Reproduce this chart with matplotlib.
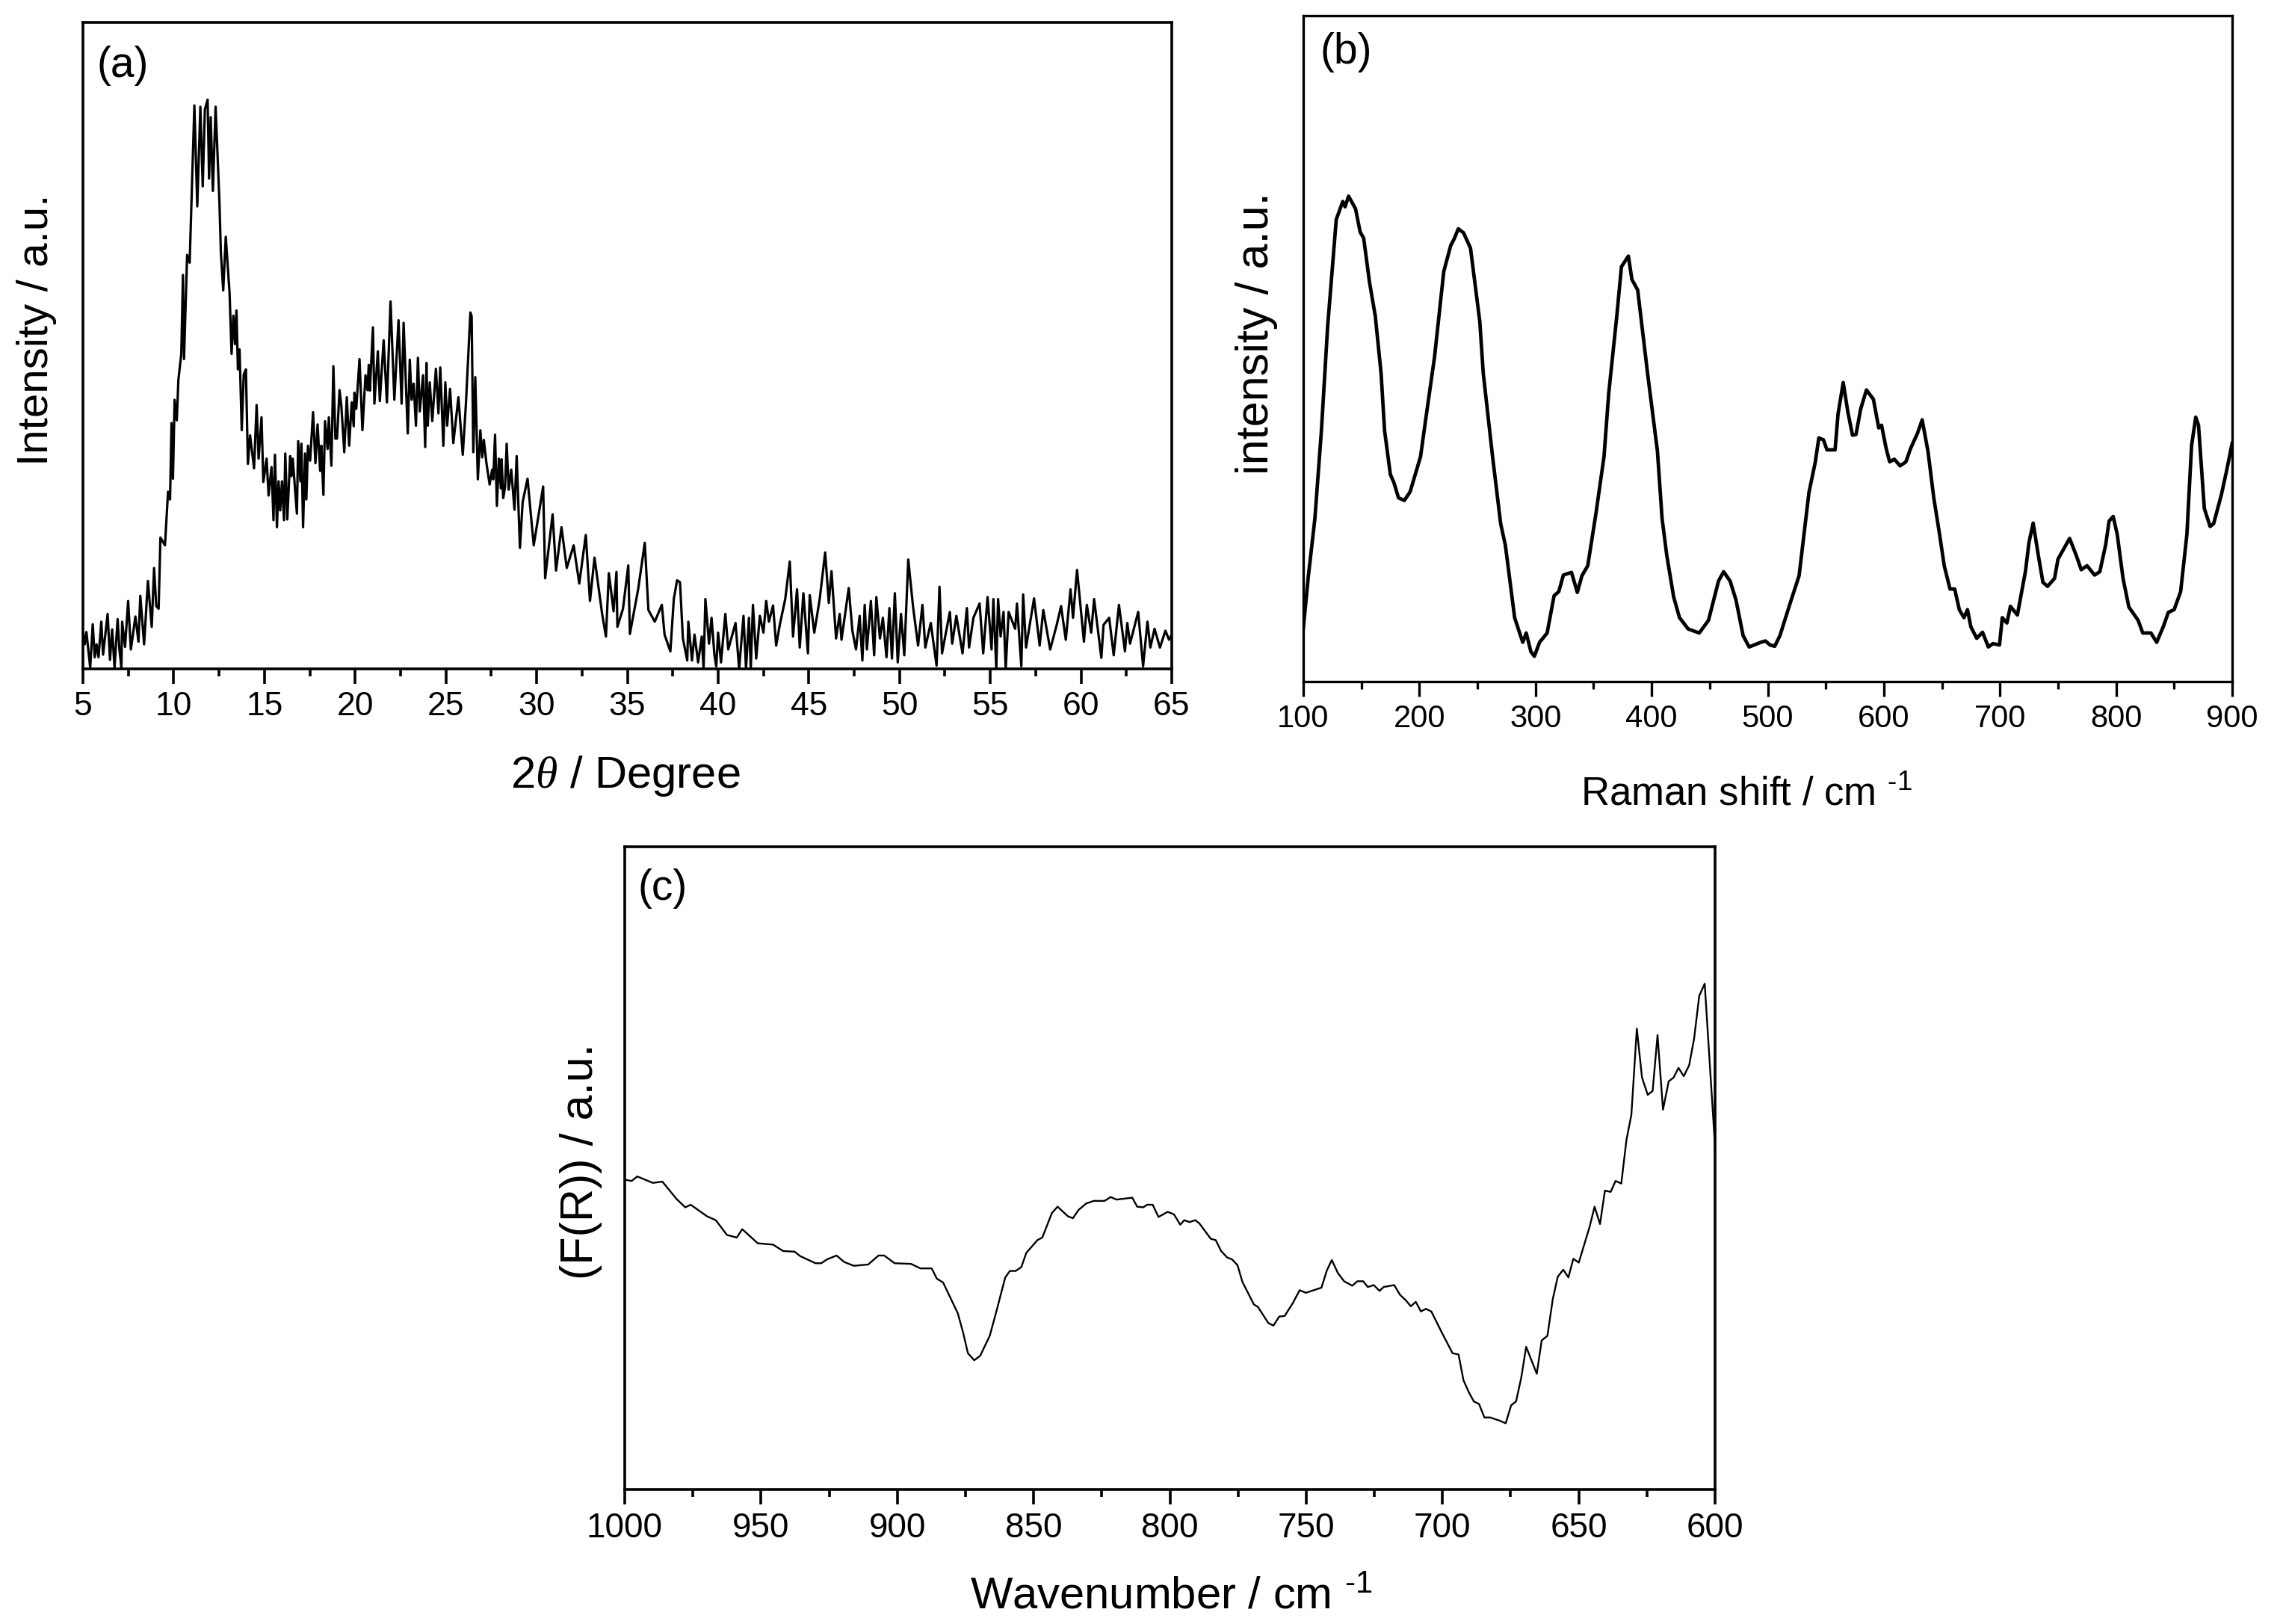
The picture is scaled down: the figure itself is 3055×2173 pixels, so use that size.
import matplotlib
matplotlib.use("Agg")
import matplotlib.pyplot as plt
from matplotlib.ticker import MultipleLocator

plt.rcParams['font.family'] = ['Liberation Sans', 'DejaVu Sans']
plt.rcParams['mathtext.fontset'] = 'custom'
plt.rcParams['mathtext.rm'] = 'Liberation Sans'
plt.rcParams['mathtext.it'] = 'Liberation Serif:italic'

W, H = 3055, 2173

# (a) XRD pattern, y in % of the frame height
xrd_x = [5.00, 5.10, 5.19, 5.40, 5.54, 5.65, 5.75, 5.86, 6.01, 6.11, 6.36, 6.49, 6.61, 6.74, 6.91, 7.01, 7.12, 7.16, 7.32, 7.49,
         7.64, 7.89, 8.06, 8.16, 8.37, 8.58, 8.79, 8.92, 9.04, 9.17, 9.27, 9.52, 9.69, 9.80, 9.88, 9.96, 10.05, 10.17, 10.26, 10.42,
         10.51, 10.57, 10.74, 10.88, 10.99, 11.14, 11.30, 11.47, 11.60, 11.72, 11.87, 11.95, 12.04, 12.16, 12.31, 12.52, 12.60, 12.73, 12.87, 13.08,
         13.19, 13.29, 13.38, 13.46, 13.54, 13.63, 13.75, 13.86, 13.98, 14.09, 14.21,
         14.43, 14.57, 14.68, 14.84, 14.94, 15.12, 15.23, 15.39, 15.50, 15.58, 15.69, 15.78, 15.87, 15.97, 16.08, 16.15, 16.26, 16.42, 16.49, 16.56,
         16.79, 16.86, 16.98, 17.04, 17.13, 17.24, 17.31, 17.40, 17.52, 17.68, 17.81, 17.93, 18.07, 18.14, 18.25, 18.34, 18.48, 18.55, 18.69, 18.80,
         18.91, 19.00, 19.14, 19.24, 19.40, 19.54, 19.67, 19.81, 19.92, 19.96, 20.06, 20.24, 20.40, 20.57, 20.68, 20.75, 20.81, 20.98, 21.06, 21.25,
         21.36, 21.57, 21.75, 21.95, 22.16, 22.39, 22.56, 22.67, 22.90, 23.01, 23.11, 23.22, 23.35, 23.46, 23.56, 23.74, 23.86, 23.93, 24.00, 24.11,
         24.25, 24.45, 24.59, 24.69, 24.86, 24.97, 25.07, 25.23, 25.41, 25.69, 25.93, 26.10, 26.35, 26.42, 26.51, 26.62, 26.76, 26.90, 27.00, 27.09,
         27.23, 27.41, 27.55, 27.61, 27.71, 27.81, 27.92, 28.03, 28.07, 28.16, 28.26, 28.35, 28.46, 28.60, 28.78,
         28.90, 29.08, 29.23, 29.50, 29.84, 30.36, 30.47, 30.88,
         31.07, 31.37, 31.66, 32.04, 32.35, 32.71, 32.94, 33.19, 33.61, 33.82, 33.98, 34.24, 34.40, 34.45, 34.76, 35.05, 35.14, 35.60, 35.96, 36.16,
         36.51, 36.90, 37.05, 37.37, 37.56, 37.74, 37.90, 38.06, 38.30, 38.36, 38.56, 38.70, 38.90, 39.10, 39.20, 39.30, 39.50, 39.64, 39.80, 39.90,
         40.00, 40.16, 40.40, 40.56, 40.96, 41.16, 41.40, 41.54, 41.70, 41.80, 41.92, 42.10, 42.30, 42.50, 42.65, 42.80, 43.03, 43.20, 43.40, 43.70,
         43.95, 44.13, 44.35, 44.50, 44.70, 44.95, 45.05, 45.30, 45.60, 45.90, 46.10, 46.25, 46.50, 46.70, 46.80, 47.20, 47.40, 47.60, 47.80, 47.95,
         48.08, 48.20, 48.42, 48.60, 48.72, 48.92, 49.08, 49.28, 49.44, 49.58, 49.74, 49.90, 50.08, 50.26, 50.48, 50.74, 51.02, 51.26, 51.42, 51.72,
         52.04, 52.20, 52.34, 52.77, 52.90, 53.13, 53.47, 53.71, 53.83, 54.07, 54.41, 54.61, 54.85, 55.07, 55.17, 55.33, 55.43, 55.57, 55.73, 55.85,
         56.01, 56.37, 56.47, 56.71, 56.81, 56.97, 57.41, 57.72, 57.92, 58.30, 58.66, 58.90, 59.16, 59.42, 59.56, 59.78, 60.16, 60.32, 60.56, 60.72,
         61.12, 61.24, 61.55, 61.80, 62.09, 62.42, 62.55, 62.70, 63.15, 63.42, 63.66, 63.82, 64.05, 64.35, 64.65, 64.85, 65.00]
xrd_y = [5.7, 3.8, 5.7, 0.2, 6.9, 1.8, 3.8, 1.8, 7.3, 2.2, 8.5, 1.4, 6.1, 0.2, 7.7, 3.0, 0.2, 7.3, 3.4, 10.5,
         3.0, 8.1, 4.2, 11.3, 3.8, 13.6, 6.5, 15.6, 9.7, 9.3, 20.3, 19.1, 27.4, 26.2, 38.0, 29.4, 41.6, 38.4, 44.7, 48.7,
         60.9, 47.9, 64.0, 62.8, 73.1, 87.1, 71.5, 86.9, 74.6, 86.5, 88.0, 75.8, 85.3, 73.9, 86.9, 72.3, 64.4, 58.5, 66.8, 58.1,
         48.7, 54.6, 50.2, 55.4, 46.3, 49.4, 36.9, 45.5, 46.3, 31.7, 36.1,
         31.0, 40.8, 32.5, 38.9, 28.9, 32.5, 26.8, 31.2, 23.0, 33.1, 21.9, 29.0, 24.5, 29.0, 23.0, 33.3, 23.1, 32.9, 29.8, 32.5,
         24.0, 35.2, 29.0, 34.8, 21.9, 33.3, 26.2, 34.5, 32.2, 39.7, 31.8, 37.8, 30.6, 34.5, 26.9, 38.3, 34.0, 38.9, 31.4, 46.8,
         35.6, 35.6, 43.1, 40.6, 33.5, 42.0, 34.5, 41.2, 37.5, 42.7, 40.2, 47.9, 36.9, 45.4, 43.1, 47.0, 43.0, 52.8, 41.0, 49.1,
         41.4, 50.8, 41.2, 56.8, 41.6, 53.9, 41.0, 53.5, 36.4, 47.8, 41.6, 44.1, 37.6, 48.1, 39.8, 45.4, 34.3, 47.3, 37.6, 44.3,
         38.3, 46.4, 39.5, 46.6, 34.5, 44.3, 37.6, 43.3, 34.9, 42.0, 33.1, 40.8, 55.1, 54.5, 33.5, 45.1, 29.3, 36.9, 32.7, 35.4,
         31.9, 28.5, 30.8, 29.3, 36.2, 25.2, 32.5, 27.9, 32.4, 26.4, 28.1, 34.8, 27.7, 30.8, 24.6,
         32.9, 18.7, 25.8, 29.4, 19.1, 28.2, 14.0, 23.9,
         15.2, 21.9, 15.6, 19.1, 13.2, 20.7, 10.5, 17.2, 8.5, 5.0, 14.8, 8.9, 15.0, 6.5, 9.3, 16.0, 5.4, 12.4, 19.5, 9.1,
         7.3, 9.9, 5.3, 2.7, 10.8, 13.7, 13.4, 4.7, 1.3, 7.3, 1.3, 5.3, 1.0, 5.0, 0.0, 10.8, 3.9, 7.9, 2.1, 0.4,
         5.6, 1.0, 8.5, 3.0, 7.1, 0.0, 8.2, 0.0, 7.9, 0.0, 9.9, 1.6, 8.2, 5.6, 10.5, 7.3, 9.8, 3.6, 6.8, 10.8,
         16.6, 5.0, 12.3, 3.3, 11.7, 2.4, 11.4, 5.6, 10.8, 18.0, 10.2, 15.1, 4.7, 8.5, 4.5, 12.5, 5.9, 3.0, 8.2, 1.3,
         9.9, 3.0, 10.5, 2.1, 11.1, 4.7, 7.9, 1.8, 9.4, 1.6, 11.7, 1.0, 8.5, 2.1, 16.9, 9.7, 3.6, 9.9, 3.3, 7.1,
         0.5, 12.7, 2.4, 8.8, 3.9, 8.2, 2.4, 9.4, 3.3, 7.9, 10.1, 2.4, 11.1, 3.0, 10.8, 0.0, 10.8, 5.0, 8.8, 0.0,
         8.8, 6.2, 10.1, 0.4, 11.5, 3.3, 10.9, 3.6, 9.1, 3.0, 6.8, 9.7, 4.5, 12.3, 7.9, 15.3, 4.2, 9.9, 5.6, 10.8,
         1.7, 6.8, 7.9, 2.1, 9.9, 2.7, 7.1, 3.9, 8.8, 0.4, 7.3, 3.3, 6.2, 3.3, 5.9, 4.5, 5.3]

# (b) Raman spectrum
raman_x = [100, 104.4, 110, 115.6, 121, 128.4, 134, 136, 139, 145, 149, 152, 157, 162, 167, 170, 175, 178, 182, 187,
           192, 201, 206, 213, 221, 227, 230, 233.5, 238, 244, 252, 255, 263, 270, 274, 278, 282, 289, 292, 296,
           299, 303.5, 310, 316, 320, 324, 331, 336, 340, 345, 352, 359, 363, 370, 374, 380, 383, 388, 396.5, 405,
           409, 413, 419, 424, 431.5, 441, 449, 457.6, 462, 467.6, 472.6, 478.8, 484, 494, 498, 502, 506, 510.5, 519, 527,
           535.5, 541, 544, 548, 551, 558, 560.5, 565, 569, 573, 576, 580, 585, 591, 595.6, 598, 602, 605, 609, 614,
           619, 623, 629, 633, 638, 643, 648, 652, 657, 661, 665, 669, 672, 675, 680, 685, 690, 694, 699.6, 702,
           706, 709, 715, 722, 725, 728.6, 733, 737, 741, 747, 750, 760, 765.6, 770, 775, 781.5, 786, 791, 794, 797.5,
           801, 806, 811, 819, 823, 830, 835, 841, 845, 850, 855.6, 861, 865, 868.6, 871, 876, 881, 884, 890.6, 895, 900]
raman_y = [8.0, 15.9, 24.5, 37.7, 53.4, 69.4, 72.1, 71.3, 72.9, 71, 67.5, 66.6, 60, 54.9, 46.3, 37.7, 31.1, 29.9, 27.6, 27.2,
           28.5, 33.8, 40.1, 48.7, 61.6, 65.5, 66.5, 68, 67.4, 65.1, 54.1, 46.3, 33.8, 23.7, 20.5, 15.1, 9.6, 5.9, 7.3, 4.5,
           3.8, 5.9, 7.3, 12.9, 13.5, 16, 16.4, 13.4, 15.9, 17.4, 25.2, 33.8, 43.2, 54.9, 62.3, 63.9, 60.4, 58.8, 46.3, 34.6,
           24.5, 19, 12.7, 9.6, 7.9, 7.3, 9.2, 15.1, 16.5, 15.1, 12.3, 6.9, 5.2, 5.9, 6.1, 5.5, 5.3, 6.9, 11.6, 15.9,
           28.4, 33, 36.6, 36.3, 34.8, 34.8, 40.1, 44.9, 40.5, 37, 37.1, 40.9, 43.8, 42.4, 38.1, 38.5, 35, 33, 33.4, 32.4,
           33, 35, 37.3, 39.3, 34.6, 27.6, 22.1, 17.4, 13.9, 13.9, 10.8, 9.6, 10.8, 8.2, 6.5, 7.4, 5.2, 5.7, 5.5, 9.6,
           8.8, 11.3, 10, 16.6, 20.9, 23.8, 19, 14.9, 14.3, 15.5, 18.4, 21.5, 19, 16.8, 17.4, 16, 16.5, 20.5, 24.1, 24.8,
           22.1, 15.5, 11.2, 9.2, 7.3, 7.3, 5.9, 8.4, 10.4, 10.8, 13.5, 22.1, 35.4, 39.7, 38.5, 26, 23.3, 23.7, 28, 31.5, 35.8]

# (c) F(R) spectrum
fr_x = [1000, 997.5, 995.4, 989.7, 986.2, 981, 977.8, 975.8, 969.8, 966.6, 962.5, 958.9, 956.9, 951.2, 945.6, 941.9, 937.7, 935.6, 930, 927.9,
        925.8, 922.3, 919.5, 916, 910.7, 906.9, 904.8, 901, 895, 891.5, 887.4, 885.5, 883.2, 880.4, 877.8, 875.8, 874.1, 871.8, 869.6, 866.1,
        863.6, 860.4, 858.7, 856.6, 854.5, 852.7, 848.6, 846.8, 843.3, 841.2, 837.4, 835.6, 833.5, 830.7, 827.9, 824, 821.7, 819.6, 813.8, 812,
        809.8, 808.3, 806.3, 804.2, 800.8, 798.5, 796.2, 794.7, 792.8, 790.7, 789.2, 785, 783.2, 781.2, 779, 777.2, 775.2, 773.4, 769.2, 767.7,
        763.9, 762, 759.9, 757.9, 754.9, 752.4, 750.1, 744.4, 742.4, 740.6, 738.4, 736.1, 733.1, 731.2, 729.1, 727.4, 725.2, 723.1, 721.6, 717.7,
        715.6, 713.6, 711.6, 709.8, 707.9, 706.1, 704.1, 700.1, 696.3, 694.1, 692.3, 690.3, 688.5, 686.6, 684.6, 682.5, 679, 676.8, 674.8, 673,
        671.1, 669.3, 665.4, 663.6, 661.5, 659.5, 657.7, 655.7, 653.8, 652, 650, 646, 644.2, 642.2, 640.4, 638.3, 636.5, 634.4, 632.5, 630.7,
        628.7, 626.8, 624.7, 622.9, 621.1, 619.1, 617, 615.2, 613.4, 611.5, 609.5, 607.7, 605.8, 603.8, 600]
fr_y = [48.2, 48, 48.7, 47.7, 47.9, 45.2, 43.9, 44.3, 42.5, 41.9, 39.6, 39.2, 40.5, 38.3, 38.1, 37.1, 37, 36.3, 35.2, 35.2,
        35.8, 36.4, 35.4, 34.8, 35, 36.4, 36.4, 35.2, 35.1, 34.4, 34.4, 32.8, 32.2, 29.7, 27.4, 24.3, 21.2, 20.1, 20.8, 23.9,
        27.8, 33, 34, 34, 34.6, 36.8, 38.8, 39.2, 43, 44, 42.5, 42.2, 43.5, 44.5, 44.9, 44.9, 45.5, 45.1, 45.4, 44,
        43.9, 44.3, 44.3, 42.4, 43.2, 42.8, 41.2, 41.9, 41.6, 41.9, 41.4, 39, 38.8, 37.1, 36.1, 35.8, 34.9, 32.3, 28.8, 28.4,
        25.9, 25.5, 26.9, 27, 29, 31, 30.6, 31.4, 34.1, 35.7, 33.7, 32.4, 31.7, 32.4, 32.4, 31.5, 31.8, 30.9, 31.5, 31.8,
        30.3, 29.5, 28.5, 29.2, 27.7, 28.1, 27.7, 24.3, 21.2, 21, 17, 15.1, 13.7, 13.3, 11.2, 11.2, 10.7, 10.3, 13.1, 13.7,
        17.4, 22.2, 18, 23.2, 23.9, 29.7, 33.1, 34.2, 33, 35.9, 35.3, 40.9, 44, 41.3, 46.5, 46.3, 48, 47.6, 54.4, 58.3,
        71.7, 64.1, 61.4, 62, 70.7, 59.1, 63.5, 64.1, 65.6, 64.3, 66, 70.1, 76.8, 78.7, 53.3]


def make_panel(left, right, top, bottom, xlim, major, minor, x, y, lw, tick_size, spine_lw):
    # frame given in image pixels
    ax = fig.add_axes([left / W, 1 - bottom / H, (right - left) / W, (bottom - top) / H])
    ax.plot(x, y, color='black', lw=lw, solid_joinstyle='round')
    ax.set_xlim(xlim)
    ax.set_ylim(0, 100)
    ax.set_yticks([])
    ax.xaxis.set_major_locator(MultipleLocator(major))
    ax.xaxis.set_minor_locator(MultipleLocator(minor))
    ax.tick_params(axis='x', which='major', length=14.5, width=spine_lw, pad=7, labelsize=tick_size)
    ax.tick_params(axis='x', which='minor', length=7.5, width=spine_lw)
    for s in ax.spines.values():
        s.set_linewidth(spine_lw)
    return ax


def label(x, y, txt, size, rot=0):
    fig.text(x / W, 1 - y / H, txt, fontsize=size, rotation=rot, ha='center', va='center')


fig = plt.figure(figsize=(W / 100, H / 100), dpi=100)

make_panel(111, 1568, 29.5, 895, (5, 65), 5, 2.5, xrd_x, xrd_y, 2.3, 32, 2.6)
make_panel(1744, 2987, 21, 912, (100, 900), 100, 50, raman_x, raman_y, 3.4, 30, 2.4)
make_panel(836, 2295, 1133, 1993, (1000, 600), 50, 25, fr_x, fr_y, 1.7, 33, 2.6)

label(164, 88, '(a)', 41)
label(1801, 70, '(b)', 41)
label(887, 1189, '(c)', 41)

label(49, 441, 'Intensity / a.u.', 42, 90)
label(837, 1038, r'2$\theta$ / Degree', 43)
label(1682, 446, 'intensity / a.u.', 44, 90)
label(2337, 1063, 'Raman shift / cm $\\mathregular{^{\u20101}}$', 38)
label(777, 1554, '(F(R)) / a.u.', 44, 90)
label(1567, 2138, 'Wavenumber / cm $\\mathregular{^{\u20101}}$', 43)

fig.savefig('out.png', dpi=100)
